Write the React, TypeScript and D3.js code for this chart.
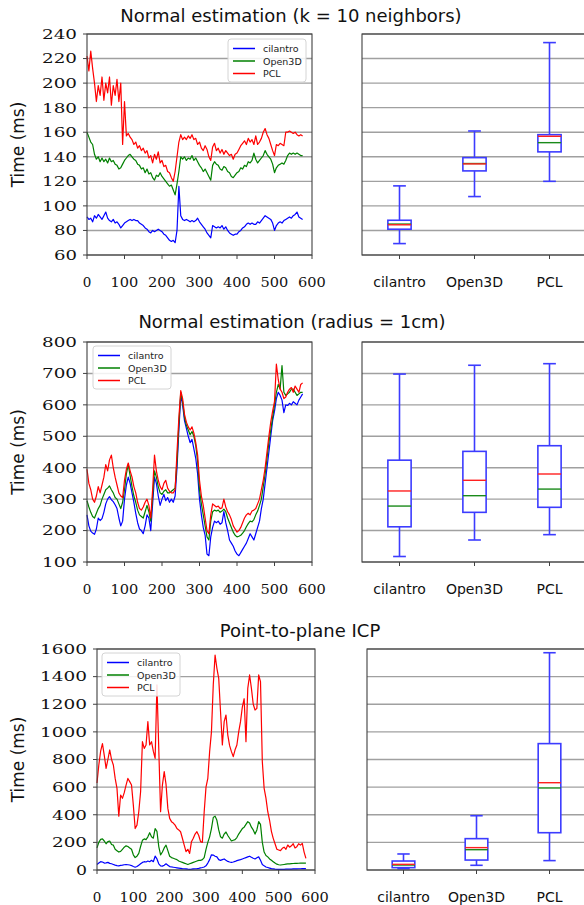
import * as d3 from 'd3';

const width = 584;
const height = 905;
const step = 5; // frames between samples
const xTicks = [0, 100, 200, 300, 400, 500, 600];
const engines = ['cilantro', 'Open3D', 'PCL'];
const lineColors = ['#0000ff', '#008000', '#ff0000'];

// ---- Normal estimation (k = 10 neighbors), sampled every 5 frames
const knnCilantro = [
	91, 89, 90, 87, 92, 90, 93, 91, 89, 92,
	95, 90, 88, 87, 89, 86, 87, 85, 82, 84,
	86, 87, 88, 89, 88, 89, 88, 88, 86, 85,
	84, 82, 81, 79, 78, 80, 79, 80, 81, 80,
	79, 77, 76, 74, 72, 71, 72, 70, 80, 116,
	92, 89, 88, 89, 88, 87, 88, 87, 88, 90,
	87, 85, 83, 81, 78, 76, 74, 84, 83, 82,
	83, 82, 84, 81, 83, 80, 78, 77, 76, 77,
	77, 79, 80, 82, 83, 85, 86, 85, 86, 85,
	85, 87, 86, 88, 90, 92, 91, 90, 89, 86,
	80, 84, 86, 87, 86, 88, 89, 90, 91, 90,
	92, 93, 95, 91, 90, 89,
];
const knnOpen3d = [
	160, 156, 152, 150, 142, 138, 140, 136, 139, 136,
	138, 135, 139, 136, 137, 134, 133, 130, 131, 134,
	137, 139, 141, 142, 140, 138, 137, 134, 133, 130,
	131, 127, 130, 126, 127, 123, 121, 125, 124, 127,
	124, 122, 120, 118, 116, 117, 113, 109, 118, 128,
	140, 138, 140, 137, 139, 138, 141, 137, 139, 136,
	133, 131, 128, 130, 127, 124, 121, 133, 136, 134,
	133, 130, 129, 132, 131, 128, 127, 124, 123, 125,
	127, 128, 131, 130, 133, 132, 136, 135, 137, 143,
	138, 135, 137, 139, 141, 145, 142, 140, 138, 134,
	127, 131, 133, 134, 135, 134, 137, 141, 143, 142,
	143, 142, 143, 142, 141, 141,
];
const knnPcl = [
	222, 210, 226, 212, 200, 185, 198, 190, 205, 186,
	200, 192, 205, 182, 198, 190, 203, 185, 200, 150,
	185, 157, 159, 156, 154, 150, 152, 147, 149, 145,
	147, 143, 145, 139, 141, 135, 142, 138, 144, 135,
	137, 132, 133, 128, 127, 123, 120, 128, 140, 152,
	158, 154, 156, 154, 157, 155, 158, 154, 155, 150,
	152, 147, 145, 149, 146, 140, 137, 148, 151, 145,
	147, 143, 146, 142, 145, 143, 141, 142, 138, 142,
	143, 146, 149, 151, 153, 150, 155, 152, 154, 150,
	157, 150, 152, 155, 160, 163, 158, 155, 150, 145,
	141, 150, 149, 151, 150, 149, 160, 160, 161, 160,
	159, 160, 158, 157, 158, 157,
];

// ---- Normal estimation (radius = 1cm)
const radCilantro = [
	250, 215, 198, 192, 188, 205, 240, 232, 238, 258,
	285, 300, 308, 298, 292, 282, 270, 240, 215, 230,
	300, 345, 370, 350, 320, 290, 255, 225, 205, 200,
	190, 215, 250, 240, 200, 285, 370, 350, 310, 280,
	300, 315, 295, 305, 290, 300, 290, 310, 400, 520,
	630, 600, 550, 525, 500, 480, 490, 460, 430, 380,
	300, 250, 210, 185, 125, 120, 180, 210, 230, 225,
	230, 220, 225, 260, 225, 200, 170, 160, 150, 135,
	125, 120, 130, 140, 150, 160, 175, 190, 180, 170,
	190, 210, 230, 270, 300, 350, 400, 450, 500, 550,
	580, 620, 640, 630, 615, 575, 600, 598, 605, 600,
	610, 605, 600, 615, 625, 635,
];
const radOpen3d = [
	295, 275, 258, 245, 240, 255, 270, 280, 300, 315,
	330, 335, 342, 330, 320, 305, 300, 285, 270, 290,
	330, 380, 410, 375, 340, 310, 290, 265, 250, 245,
	240, 260, 280, 260, 230, 310, 390, 370, 340, 320,
	315, 325, 330, 320, 320, 325, 330, 335, 420, 540,
	640, 610, 560, 535, 520, 505, 515, 500, 470, 420,
	330, 285, 250, 215, 180, 170, 230, 260, 265, 262,
	265, 258, 262, 268, 260, 240, 225, 210, 195, 185,
	180, 182, 185, 192, 200, 212, 222, 230, 228, 235,
	250, 262, 280, 300, 340, 380, 430, 480, 520, 560,
	600, 640, 665, 650, 725, 640, 630, 635, 640, 650,
	650, 640, 630, 635, 640, 640,
];
const radPcl = [
	395, 350, 330, 300, 290, 310, 340, 320, 345, 370,
	410, 390, 425, 440, 400, 370, 345, 320, 310, 305,
	360, 395, 415, 390, 370, 340, 320, 290, 270, 265,
	275, 290, 300, 280, 240, 330, 440, 390, 360, 340,
	330, 350, 360, 335, 325, 320, 320, 330, 450, 560,
	645, 620, 570, 545, 530, 520, 530, 510, 480, 440,
	360, 310, 280, 240, 200, 190, 250, 285, 280, 275,
	278, 270, 272, 300, 275, 260, 250, 235, 215, 205,
	195, 200, 210, 225, 240, 250, 255, 250, 262, 265,
	270, 285, 300, 330, 360, 400, 450, 500, 545, 580,
	610, 730, 680, 650, 640, 620, 625, 640, 650, 655,
	640, 660, 650, 640, 665, 670,
];

// ---- Point-to-plane ICP
const icpCilantro = [
	40, 50, 60, 58, 50, 52, 55, 48, 45, 40,
	35, 32, 30, 33, 35, 38, 40, 38, 36, 32,
	25, 20, 25, 35, 45, 55, 60, 58, 65, 60,
	70, 60, 100, 80, 45, 30, 28, 35, 45, 35,
	25, 22, 20, 18, 16, 14, 12, 10, 9, 8,
	6, 5, 6, 8, 9, 10, 12, 15, 18, 22,
	30, 50, 75, 110, 108, 100, 95, 75, 70, 75,
	80, 70, 62, 58, 55, 58, 62, 68, 72, 75,
	80, 85, 90, 95, 100, 92, 85, 80, 88, 95,
	70, 40, 30, 22, 18, 14, 10, 8, 6, 5,
	5, 4, 5, 5, 6, 6, 7, 7, 8, 8,
	8, 9, 9, 10, 10, 10,
];
const icpOpen3d = [
	160, 200, 222, 225, 210, 190, 205, 210, 185, 180,
	150, 140, 130, 135, 150, 165, 175, 170, 160, 150,
	110, 90, 100, 120, 170, 215, 225, 220, 240, 270,
	240, 230, 300, 280, 170, 110, 130, 160, 180, 140,
	100, 90, 85, 80, 75, 65, 60, 55, 50, 45,
	40, 45, 50, 55, 60, 65, 70, 70, 75, 90,
	150, 200, 240, 300, 380, 390, 360, 290, 240, 230,
	260, 275, 250, 230, 210, 215, 220, 235, 260, 280,
	300, 310, 330, 350, 340, 310, 290, 260, 290, 350,
	330, 200, 130, 105, 95, 80, 70, 60, 50, 42,
	38, 36, 38, 40, 42, 44, 45, 46, 47, 48,
	48, 49, 50, 50, 50, 50,
];
const icpPcl = [
	630, 760, 860, 915, 830, 736, 800, 869, 800, 760,
	663, 591, 390, 543, 519, 560, 615, 663, 640, 615,
	470, 300, 325, 422, 567, 929, 880, 905, 1074, 905,
	929, 860, 808, 1340, 880, 422, 615, 712, 620, 446,
	374, 350, 340, 325, 300, 290, 277, 230, 180, 133,
	150, 120, 205, 230, 260, 277, 250, 205, 200, 420,
	600, 664, 857, 1000, 1339, 1556, 1460, 1388, 1146, 905,
	1074, 1122, 977, 900, 857, 821, 870, 905, 1000, 1074,
	1180, 1240, 929, 1315, 1412, 1315, 1200, 1158, 1170, 1412,
	1363, 784, 591, 520, 422, 360, 280, 229, 190, 150,
	145, 140, 157, 165, 150, 181, 165, 175, 190, 160,
	169, 190, 180, 193, 130, 84,
];

// box stats: [low whisker, q1, median, mean, q3, high whisker]
const knnBoxes = [
	[69.3, 81, 85.2, 84.6, 88.3, 116.3],
	[107.6, 128.5, 134.5, 134.2, 139.3, 161],
	[120, 144, 151.5, 156.7, 158, 233],
];
const radBoxes = [
	[117.5, 212, 278, 326, 424, 698],
	[170, 258, 311, 360, 452, 726],
	[187, 274, 332, 380, 470, 731],
];
const icpBoxes = [
	[10, 17, 36, 41, 65, 116],
	[34, 72, 147, 162, 227, 393],
	[68, 270, 594, 632, 915, 1573],
];

const knnTicks = [60, 80, 100, 120, 140, 160, 180, 200, 220, 240];
const radTicks = [100, 200, 300, 400, 500, 600, 700, 800];
const icpTicks = [0, 200, 400, 600, 800, 1000, 1200, 1400, 1600];

const sans = 'DejaVu Sans, sans-serif';
const serif = 'DejaVu Serif, serif';
const gridColor = '#a0a0a0';
const spineColor = '#404040';
const boxColor = '#3c3cff';
// the tick numbers of the original are drawn wide, so stretch the glyphs
const yDigitWidth = 12;
const xDigitWidth = 9.6;

interface Frame {
	x0: number;
	x1: number;
	y0: number;
	y1: number;
}

const Grid = ({ yScale, ticks, x0, x1 }: any) =>
	ticks.map((t: number) => (
		<line
			key={t}
			x1={x0}
			x2={x1}
			y1={yScale(t)}
			y2={yScale(t)}
			stroke={gridColor}
			strokeWidth={1.4}
		/>
	));

const Spines = ({ x0, x1, y0, y1 }: Frame) => (
	<rect
		x={x0}
		y={y0}
		width={x1 - x0}
		height={y1 - y0}
		fill="none"
		stroke={spineColor}
		strokeWidth={1.1}
	/>
);

const LinePanel = ({ frame, yDomain, yTicks, series, legend }: any) => {
	const { x0, x1, y0, y1 } = frame as Frame;
	const xScale = d3.scaleLinear().domain([0, 600]).range([x0, x1]);
	const yScale = d3.scaleLinear().domain(yDomain).range([y1, y0]);
	const path = d3
		.line<number>()
		.x((_, i) => xScale(i * step))
		.y(d => yScale(d));
	return (
		<g>
			<Grid yScale={yScale} ticks={yTicks} x0={x0} x1={x1} />
			{series.map((s: number[], i: number) => (
				<path
					key={i}
					d={path(s) || ''}
					fill="none"
					stroke={lineColors[i]}
					strokeWidth={1.2}
					strokeLinejoin="round"
				/>
			))}
			<g>
				<rect
					x={legend.x}
					y={legend.y}
					width={78}
					height={43}
					rx={3}
					fill="white"
					fillOpacity={0.85}
					stroke="#d4d4d4"
				/>
				{engines.map((e, i) => (
					<g key={e}>
						<line
							x1={legend.x + 5}
							x2={legend.x + 27}
							y1={legend.y + 9.5 + i * 12.5}
							y2={legend.y + 9.5 + i * 12.5}
							stroke={lineColors[i]}
							strokeWidth={1.5}
						/>
						<text
							x={legend.x + 35}
							y={legend.y + 13 + i * 12.5}
							fontFamily={sans}
							fontSize={9.5}
							fill="#222"
						>
							{e}
						</text>
					</g>
				))}
			</g>
			<Spines {...frame} />
			{yTicks.map((t: number) => (
				<g key={t}>
					<line x1={x0 - 4} x2={x0} y1={yScale(t)} y2={yScale(t)} stroke={spineColor} />
					<text
						x={x0 - 10}
						y={yScale(t)}
						dy="0.36em"
						textAnchor="end"
						fontFamily={serif}
						fontSize={13.5}
						textLength={String(t).length * yDigitWidth - 1}
						lengthAdjust="spacingAndGlyphs"
						fill="#111"
					>
						{t}
					</text>
				</g>
			))}
			{xTicks.map(t => (
				<g key={t}>
					<line x1={xScale(t)} x2={xScale(t)} y1={y1} y2={y1 + 4} stroke={spineColor} />
					<text
						x={xScale(t)}
						y={y1 + 32}
						textAnchor="middle"
						fontFamily={serif}
						fontSize={13.5}
						textLength={String(t).length * xDigitWidth - 1}
						lengthAdjust="spacingAndGlyphs"
						fill="#111"
					>
						{t}
					</text>
				</g>
			))}
			<text
				transform={`translate(24,${(y0 + y1) / 2}) rotate(-90)`}
				textAnchor="middle"
				fontFamily={sans}
				fontSize={17}
				fill="#111"
			>
				Time (ms)
			</text>
		</g>
	);
};

const BoxPanel = ({ frame, yDomain, yTicks, boxes }: any) => {
	const { x0, x1, y0, y1 } = frame as Frame;
	const xScale = d3.scaleLinear().domain([0.5, 3.5]).range([x0, x1]);
	const yScale = d3.scaleLinear().domain(yDomain).range([y1, y0]);
	const half = 0.155;
	const cap = 0.085;
	return (
		<g>
			<Grid yScale={yScale} ticks={yTicks} x0={x0} x1={x1} />
			{boxes.map((b: number[], i: number) => {
				const c = i + 1;
				const [lo, q1, med, mean, q3, hi] = b;
				return (
					<g key={i} fill="none" strokeWidth={1.6}>
						<line x1={xScale(c)} x2={xScale(c)} y1={yScale(q3)} y2={yScale(hi)} stroke={boxColor} />
						<line x1={xScale(c)} x2={xScale(c)} y1={yScale(q1)} y2={yScale(lo)} stroke={boxColor} />
						<line x1={xScale(c - cap)} x2={xScale(c + cap)} y1={yScale(hi)} y2={yScale(hi)} stroke={boxColor} />
						<line x1={xScale(c - cap)} x2={xScale(c + cap)} y1={yScale(lo)} y2={yScale(lo)} stroke={boxColor} />
						<rect
							x={xScale(c - half)}
							y={yScale(q3)}
							width={xScale(c + half) - xScale(c - half)}
							height={yScale(q1) - yScale(q3)}
							fill="white"
							stroke={boxColor}
						/>
						<line x1={xScale(c - half)} x2={xScale(c + half)} y1={yScale(med)} y2={yScale(med)} stroke="#1a8a1a" strokeWidth={1.4} />
						<line x1={xScale(c - half)} x2={xScale(c + half)} y1={yScale(mean)} y2={yScale(mean)} stroke="#ff2020" strokeWidth={1.4} />
					</g>
				);
			})}
			<Spines {...frame} />
			{engines.map((e, i) => (
				<g key={e}>
					<line x1={xScale(i + 1)} x2={xScale(i + 1)} y1={y1} y2={y1 + 4} stroke={spineColor} />
					<text
						x={xScale(i + 1)}
						y={y1 + 32}
						textAnchor="middle"
						fontFamily={sans}
						fontSize={14}
						fill="#111"
					>
						{e}
					</text>
				</g>
			))}
		</g>
	);
};

const rows = [
	{
		title: 'Normal estimation (k = 10 neighbors)',
		titleX: 291,
		titleY: 22,
		yDomain: [60, 240],
		yTicks: knnTicks,
		series: [knnCilantro, knnOpen3d, knnPcl],
		boxes: knnBoxes,
		left: { x0: 87, x1: 312, y0: 34, y1: 255 },
		right: { x0: 362, x1: 587, y0: 34, y1: 255 },
		legend: { x: 228, y: 39 },
	},
	{
		title: 'Normal estimation (radius = 1cm)',
		titleX: 292,
		titleY: 328,
		yDomain: [100, 800],
		yTicks: radTicks,
		series: [radCilantro, radOpen3d, radPcl],
		boxes: radBoxes,
		left: { x0: 87, x1: 312, y0: 342, y1: 562 },
		right: { x0: 362, x1: 587, y0: 342, y1: 562 },
		legend: { x: 93, y: 346 },
	},
	{
		title: 'Point-to-plane ICP',
		titleX: 300,
		titleY: 637,
		yDomain: [0, 1600],
		yTicks: icpTicks,
		series: [icpCilantro, icpOpen3d, icpPcl],
		boxes: icpBoxes,
		left: { x0: 97, x1: 315, y0: 649, y1: 870 },
		right: { x0: 367, x1: 586, y0: 649, y1: 870 },
		legend: { x: 102, y: 653 },
	},
];

const App = () => (
	<svg
		width={width}
		height={height}
		style={{ position: 'absolute', left: 0, top: 0, background: 'white' }}
	>
		{rows.map(r => (
			<g key={r.title}>
				<text
					x={r.titleX}
					y={r.titleY}
					textAnchor="middle"
					fontFamily={sans}
					fontSize={18}
					fill="#111"
				>
					{r.title}
				</text>
				<LinePanel
					frame={r.left}
					yDomain={r.yDomain}
					yTicks={r.yTicks}
					series={r.series}
					legend={r.legend}
				/>
				<BoxPanel frame={r.right} yDomain={r.yDomain} yTicks={r.yTicks} boxes={r.boxes} />
			</g>
		))}
	</svg>
);

export default App;
